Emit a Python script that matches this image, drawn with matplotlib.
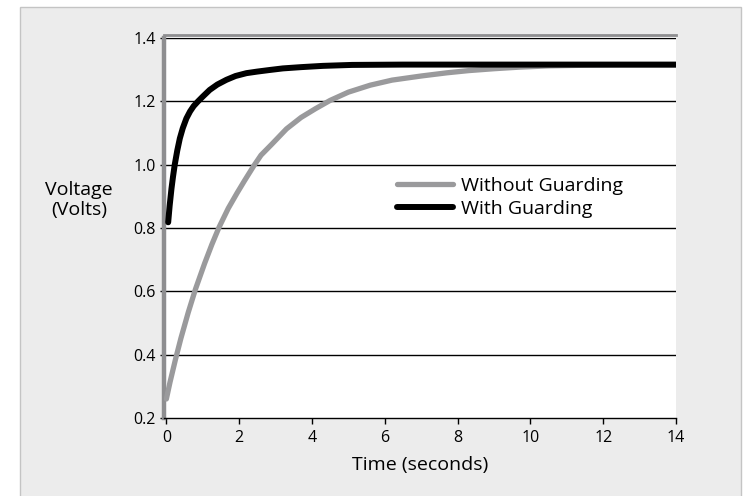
import matplotlib
matplotlib.use("Agg")
import matplotlib.pyplot as plt
from matplotlib.patches import Rectangle

# ------------------------------
# Data
# ------------------------------
t_without = [0.0, 0.1, 0.25, 0.4, 0.6, 0.8, 1.05, 1.25, 1.45, 1.7, 1.94, 2.15, 2.4, 2.6,
             2.9, 3.3, 3.7, 4.1, 4.5, 5.0, 5.6, 6.2, 7.0, 7.7, 8.3, 9.0, 9.7, 10.5, 11.5,
             12.5, 14.0]
v_without = [0.26, 0.313, 0.385, 0.452, 0.533, 0.607, 0.688, 0.748, 0.803, 0.862, 0.910,
             0.950, 0.996, 1.030, 1.065, 1.113, 1.149, 1.177, 1.203, 1.229, 1.251, 1.267,
             1.280, 1.290, 1.297, 1.303, 1.308, 1.312, 1.314, 1.315, 1.315]

t_with = [0.05, 0.09, 0.14, 0.18, 0.23, 0.3, 0.37, 0.45, 0.55, 0.65, 0.75, 0.87, 1.0,
          1.19, 1.4, 1.65, 1.9, 2.2, 2.5, 2.84, 3.2, 3.7, 4.3, 5.1, 6.5, 8.0, 10.0, 12.0,
          14.0]
v_with = [0.818, 0.87, 0.924, 0.96, 1.0, 1.045, 1.083, 1.115, 1.146, 1.168, 1.185, 1.20,
          1.215, 1.236, 1.253, 1.268, 1.28, 1.289, 1.294, 1.299, 1.304, 1.308, 1.312,
          1.315, 1.316, 1.316, 1.316, 1.316, 1.316]

x_ticks = [0, 2, 4, 6, 8, 10, 12, 14]
y_ticks = [0.2, 0.4, 0.6, 0.8, 1.0, 1.2, 1.4]

plt.rcParams['font.family'] = ['Open Sans', 'DejaVu Sans']

fig = plt.figure(figsize=(7.43, 4.96), dpi=100)
fig.patch.set_facecolor("white")
# grey panel behind the chart
fig.patches.append(Rectangle((20 / 743, -0.01), 721 / 743, 1 - 7 / 496 + 0.01,
                             transform=fig.transFigure, facecolor="#ececec",
                             edgecolor="#c4c4c4", linewidth=1.0, zorder=-10))

ax = fig.add_axes([164 / 743, 78 / 496, 512 / 743, 380 / 496])
ax.set_facecolor("white")

for y in y_ticks[1:]:
    ax.axhline(y, color="black", linewidth=1.0, zorder=1)

ax.plot(t_without, v_without, color="#9a9a9c", linewidth=3.8, solid_capstyle="round",
        solid_joinstyle="round", label="Without Guarding", zorder=3)
ax.plot(t_with, v_with, color="black", linewidth=4.3, solid_capstyle="round",
        solid_joinstyle="round", label="With Guarding", zorder=4)

ax.set_xlim(-0.065, 14.0)
ax.set_ylim(0.2, 1.4)
ax.set_xticks(x_ticks)
ax.set_yticks(y_ticks)
ax.set_yticklabels([f"{v:.1f}" for v in y_ticks])

ax.spines['right'].set_visible(False)
ax.spines['top'].set_color("#8e8e90")
ax.spines['top'].set_linewidth(2.0)
ax.spines['top'].set_position(('outward', 2))
ax.spines['left'].set_color("#8e8e90")
ax.spines['left'].set_linewidth(3.2)
ax.spines['bottom'].set_color("black")
ax.spines['bottom'].set_linewidth(1.0)

ax.tick_params(axis='x', direction='out', length=4, width=1, labelsize=11.5, pad=5)
ax.tick_params(axis='y', direction='out', length=3, width=1, labelsize=11.5, pad=3)

ax.set_xlabel("Time (seconds)", fontsize=14, labelpad=7)
fig.text(79 / 743, 1 - 200 / 496, "Voltage\n(Volts)", fontsize=14, ha="center",
         va="center", linespacing=1.2)

ax.legend(loc="upper left", bbox_to_anchor=(383 / 743, 1 - 163 / 496),
          bbox_transform=fig.transFigure, frameon=False, fontsize=14,
          handlelength=2.88, handletextpad=0.43, labelspacing=0.28, borderpad=0.2)

fig.savefig("out.png", dpi=100)
